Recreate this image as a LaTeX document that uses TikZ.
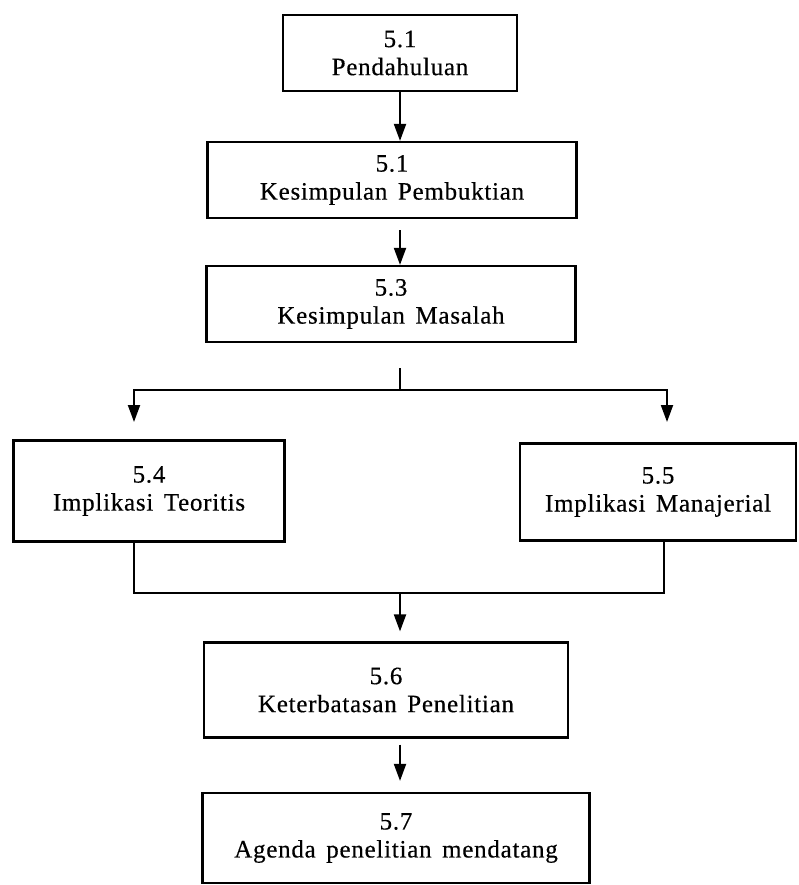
\documentclass[tikz,border=0pt]{standalone}
\usepackage{fontspec}
\setmainfont{Liberation Serif}[LetterSpace=3,WordSpace=1.5,FakeBold=0.4]
\usepackage{tikz}
\usetikzlibrary{arrows.meta,positioning,calc}

\begin{document}
\begin{tikzpicture}[x=1pt, y=-1pt,
        block/.style={draw, rectangle, line width=2.2pt, inner sep=0pt, align=center,
            font=\fontsize{25}{28}\selectfont},
        >={Triangle[length=17pt,width=12pt]}
    ]
        \useasboundingbox (0,0) rectangle (798,885);
        \coordinate (trunk) at (400,0);

        \node [block, minimum width=234pt, minimum height=76pt] (intro) at (400,53) {5.1\\Pendahuluan};
        \node [block, minimum width=369pt, minimum height=76pt] (proof) at (392,180) {5.1\\Kesimpulan Pembuktian};
        \node [block, minimum width=369pt, minimum height=76pt] (problem) at (391,304) {5.3\\Kesimpulan Masalah};
        \node [block, minimum width=271pt, minimum height=101pt] (theory) at (149,491) {5.4\\Implikasi Teoritis};
        \node [block, minimum width=276pt, minimum height=97pt] (manage) at (658,492) {5.5\\Implikasi Manajerial};
        \node [block, minimum width=364pt, minimum height=95pt] (limit) at (386,690) {5.6\\Keterbatasan Penelitian};
        \node [block, minimum width=387pt, minimum height=90pt] (agenda) at (396,838) {5.7\\Agenda penelitian mendatang};

        % split and join points
        \coordinate (split) at (400,390);
        \coordinate (tipl) at (134,422);
        \coordinate (tipr) at (667,422);
        \coordinate (dropl) at (134,593);
        \coordinate (dropr) at (664,593);

        \draw [->, line width=2pt] (intro.south -| trunk) -- (proof.north -| trunk);
        \draw [->, line width=2pt] ([yshift=-11pt]proof.south -| trunk) -- (problem.north -| trunk);

        \draw [line width=2pt] ([yshift=-25pt]problem.south -| trunk) -- (split);
        \draw [->, line width=2pt] (split) -| (tipl);
        \draw [->, line width=2pt] (split) -| (tipr);

        \draw [line width=2pt] (theory.south -| dropl) -- (dropl) -- (dropr) -- (manage.south -| dropr);
        \draw [->, line width=2pt] (dropl -| trunk) -- ([yshift=10pt]limit.north -| trunk);

        \draw [->, line width=2pt] ([yshift=-6pt]limit.south -| trunk) -- ([yshift=11pt]agenda.north -| trunk);

    \end{tikzpicture}
\end{document}
